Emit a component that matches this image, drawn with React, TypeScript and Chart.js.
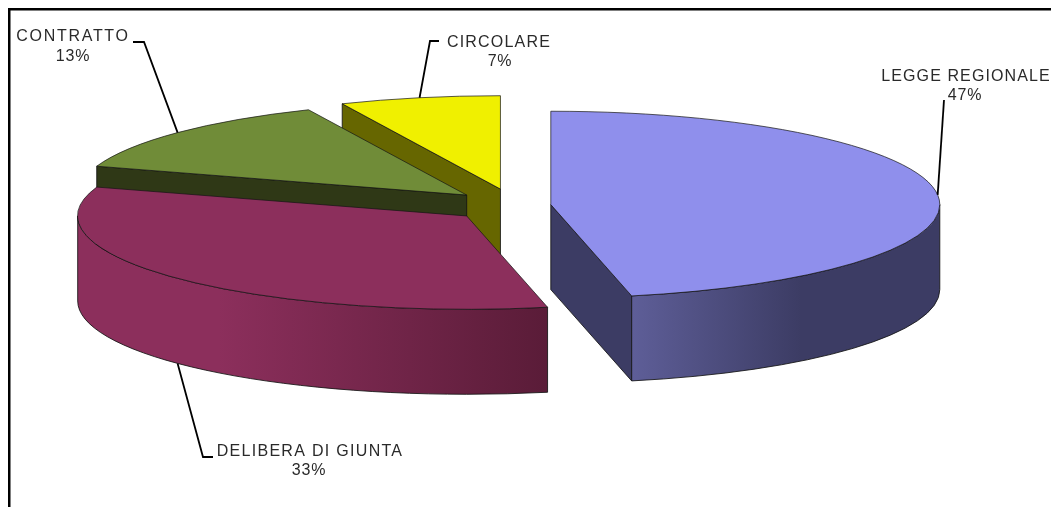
import React, { useEffect, useRef } from "react";
import { Chart, registerables } from "chart.js";

Chart.register(...registerables);

// ---- data ----
const categories = ["LEGGE REGIONALE", "DELIBERA DI GIUNTA", "CONTRATTO", "CIRCOLARE"];
const counts = [7, 5, 2, 1];

// ---- styling ----
const topColors = ["#8f8fec", "#8c2f5c", "#708c38", "#f0f000"];
const faceColors = ["#3c3c64", "#5a1c38", "#2f3816", "#666600"];
const rimStops: string[][] = [
  ["#5e5e98", "#3c3c64", "#3c3c64"],
  ["#8c2f5c", "#8c2f5c", "#5a1c38"],
  ["#708c38", "#708c38", "#2f3816"],
  ["#f0f000", "#f0f000", "#666600"],
];
const explode = [36, 65, 65, 70];
const RX = 389;
const SQUASH = 0.24;
const DEPTH = 85;
const CX = 515;
const CY = 205.5;
// label layout: text centre x, first line y, percent x, percent y, elbow and leader end, spacing
const labelLayout = [
  { x: 966, y: 77, px: 965, py: 96, elbow: [944, 100], end: [944, 100], ls: "1.1px" },
  { x: 310, y: 452, px: 309, py: 471, elbow: [203, 457], end: [213, 457], ls: "1.3px" },
  { x: 73, y: 37, px: 73, py: 57, elbow: [144, 42], end: [133, 42], ls: "1.7px" },
  { x: 499, y: 43, px: 500, py: 62, elbow: [430, 41], end: [439, 41], ls: "1.2px" },
];

const total = counts.reduce((a, b) => a + b, 0);

const pie3d = {
  id: "pie3d",
  beforeDraw(chart: any) {
    const ctx = chart.ctx;
    ctx.save();
    ctx.fillStyle = "#000";
    ctx.fillRect(8, 8, chart.width - 8, 2.5);
    ctx.fillRect(8, 8, 2.5, chart.height - 8);
    ctx.restore();
  },
  beforeDatasetsDraw(chart: any) {
    const ctx = chart.ctx;
    const arcs = chart.getDatasetMeta(0).data;
    const ry = RX * SQUASH;
    // back to front painter's order: last slice first
    [3, 2, 1, 0].forEach((i) => {
      const arc = arcs[i];
      const a0 = arc.startAngle;
      const a1 = arc.endAngle;
      const mid = (a0 + a1) / 2;
      const cx = arc.x + Math.cos(mid) * explode[i];
      const cy = arc.y + Math.sin(mid) * explode[i] * SQUASH;
      const r = arc.outerRadius;
      const ptx = (a: number) => cx + Math.cos(a) * r;
      const pty = (a: number) => cy + Math.sin(a) * ry;
      ctx.save();
      ctx.lineWidth = 1;
      ctx.strokeStyle = "rgba(20,20,20,0.85)";
      const face = (a: number) => {
        ctx.beginPath();
        ctx.moveTo(cx, cy);
        ctx.lineTo(ptx(a), pty(a));
        ctx.lineTo(ptx(a), pty(a) + DEPTH);
        ctx.lineTo(cx, cy + DEPTH);
        ctx.closePath();
        ctx.fillStyle = faceColors[i];
        ctx.fill();
        ctx.stroke();
      };
      if (Math.cos(a0) < -1e-6) face(a0);
      if (Math.cos(a1) > 1e-6) face(a1);
      const from = Math.max(a0, 0);
      const to = Math.min(a1, Math.PI);
      if (to > from) {
        const x0 = ptx(to);
        const x1 = ptx(from);
        const g = ctx.createLinearGradient(Math.min(x0, x1), 0, Math.max(x0, x1), 0);
        const stops = rimStops[i];
        if (i === 0) {
          g.addColorStop(0, stops[0]);
          g.addColorStop(0.55, stops[1]);
          g.addColorStop(1, stops[2]);
        } else {
          g.addColorStop(0, stops[0]);
          g.addColorStop(0.3, stops[1]);
          g.addColorStop(1, stops[2]);
        }
        ctx.beginPath();
        ctx.ellipse(cx, cy, r, ry, 0, from, to);
        ctx.lineTo(ptx(to), pty(to) + DEPTH);
        ctx.ellipse(cx, cy + DEPTH, r, ry, 0, to, from, true);
        ctx.closePath();
        ctx.fillStyle = g;
        ctx.fill();
        ctx.stroke();
      }
      // top surface, through the library's own arc element
      ctx.save();
      ctx.translate(cx, cy);
      ctx.scale(1, SQUASH);
      ctx.translate(-arc.x, -arc.y);
      arc.draw(ctx);
      ctx.restore();
      ctx.beginPath();
      ctx.moveTo(cx, cy);
      ctx.ellipse(cx, cy, r, ry, 0, a0, a1);
      ctx.closePath();
      ctx.strokeStyle = "rgba(20,20,20,0.7)";
      ctx.stroke();
      ctx.restore();
    });
    return false;
  },
  afterDraw(chart: any) {
    const ctx = chart.ctx;
    const arcs = chart.getDatasetMeta(0).data;
    const ry = RX * SQUASH;
    ctx.save();
    arcs.forEach((arc: any, i: number) => {
      const mid = (arc.startAngle + arc.endAngle) / 2;
      const cx = arc.x + Math.cos(mid) * explode[i];
      const cy = arc.y + Math.sin(mid) * explode[i] * SQUASH;
      const ax = cx + Math.cos(mid) * arc.outerRadius;
      const ay = cy + Math.sin(mid) * ry + (Math.sin(mid) > 0.2 ? DEPTH : 0);
      const l = labelLayout[i];
      ctx.beginPath();
      ctx.moveTo(ax, ay);
      ctx.lineTo(l.elbow[0], l.elbow[1]);
      ctx.lineTo(l.end[0], l.end[1]);
      ctx.strokeStyle = "#000";
      ctx.lineWidth = 1.8;
      ctx.stroke();
      ctx.fillStyle = "#2a2a2a";
      ctx.font = '16px "Liberation Sans"';
      ctx.textAlign = "center";
      ctx.textBaseline = "middle";
      (ctx as any).letterSpacing = l.ls;
      ctx.fillText(categories[i], l.x, l.y);
      (ctx as any).letterSpacing = "0.8px";
      ctx.fillText(Math.round((counts[i] / total) * 100) + "%", l.px, l.py);
    });
    ctx.restore();
  },
};

export default function App() {
  const ref = useRef<HTMLCanvasElement | null>(null);
  useEffect(() => {
    const chart = new Chart(ref.current as HTMLCanvasElement, {
      type: "pie",
      data: {
        labels: categories,
        datasets: [
          {
            data: counts,
            backgroundColor: topColors,
            borderWidth: 0,
            offset: 0,
          },
        ],
      },
      options: {
        responsive: false,
        animation: false,
        radius: RX,
        layout: {
          padding: { left: 0, top: 0, right: 1051 - 2 * CX, bottom: 507 - 2 * CY },
        },
        plugins: { legend: { display: false }, tooltip: { enabled: false } },
      },
      plugins: [pie3d],
    } as any);
    return () => chart.destroy();
  }, []);
  return (
    <div style={{ position: "fixed", left: 0, top: 0, width: 1051, height: 507, background: "#fff" }}>
      <canvas ref={ref} width={1051} height={507} style={{ display: "block" }} />
    </div>
  );
}
